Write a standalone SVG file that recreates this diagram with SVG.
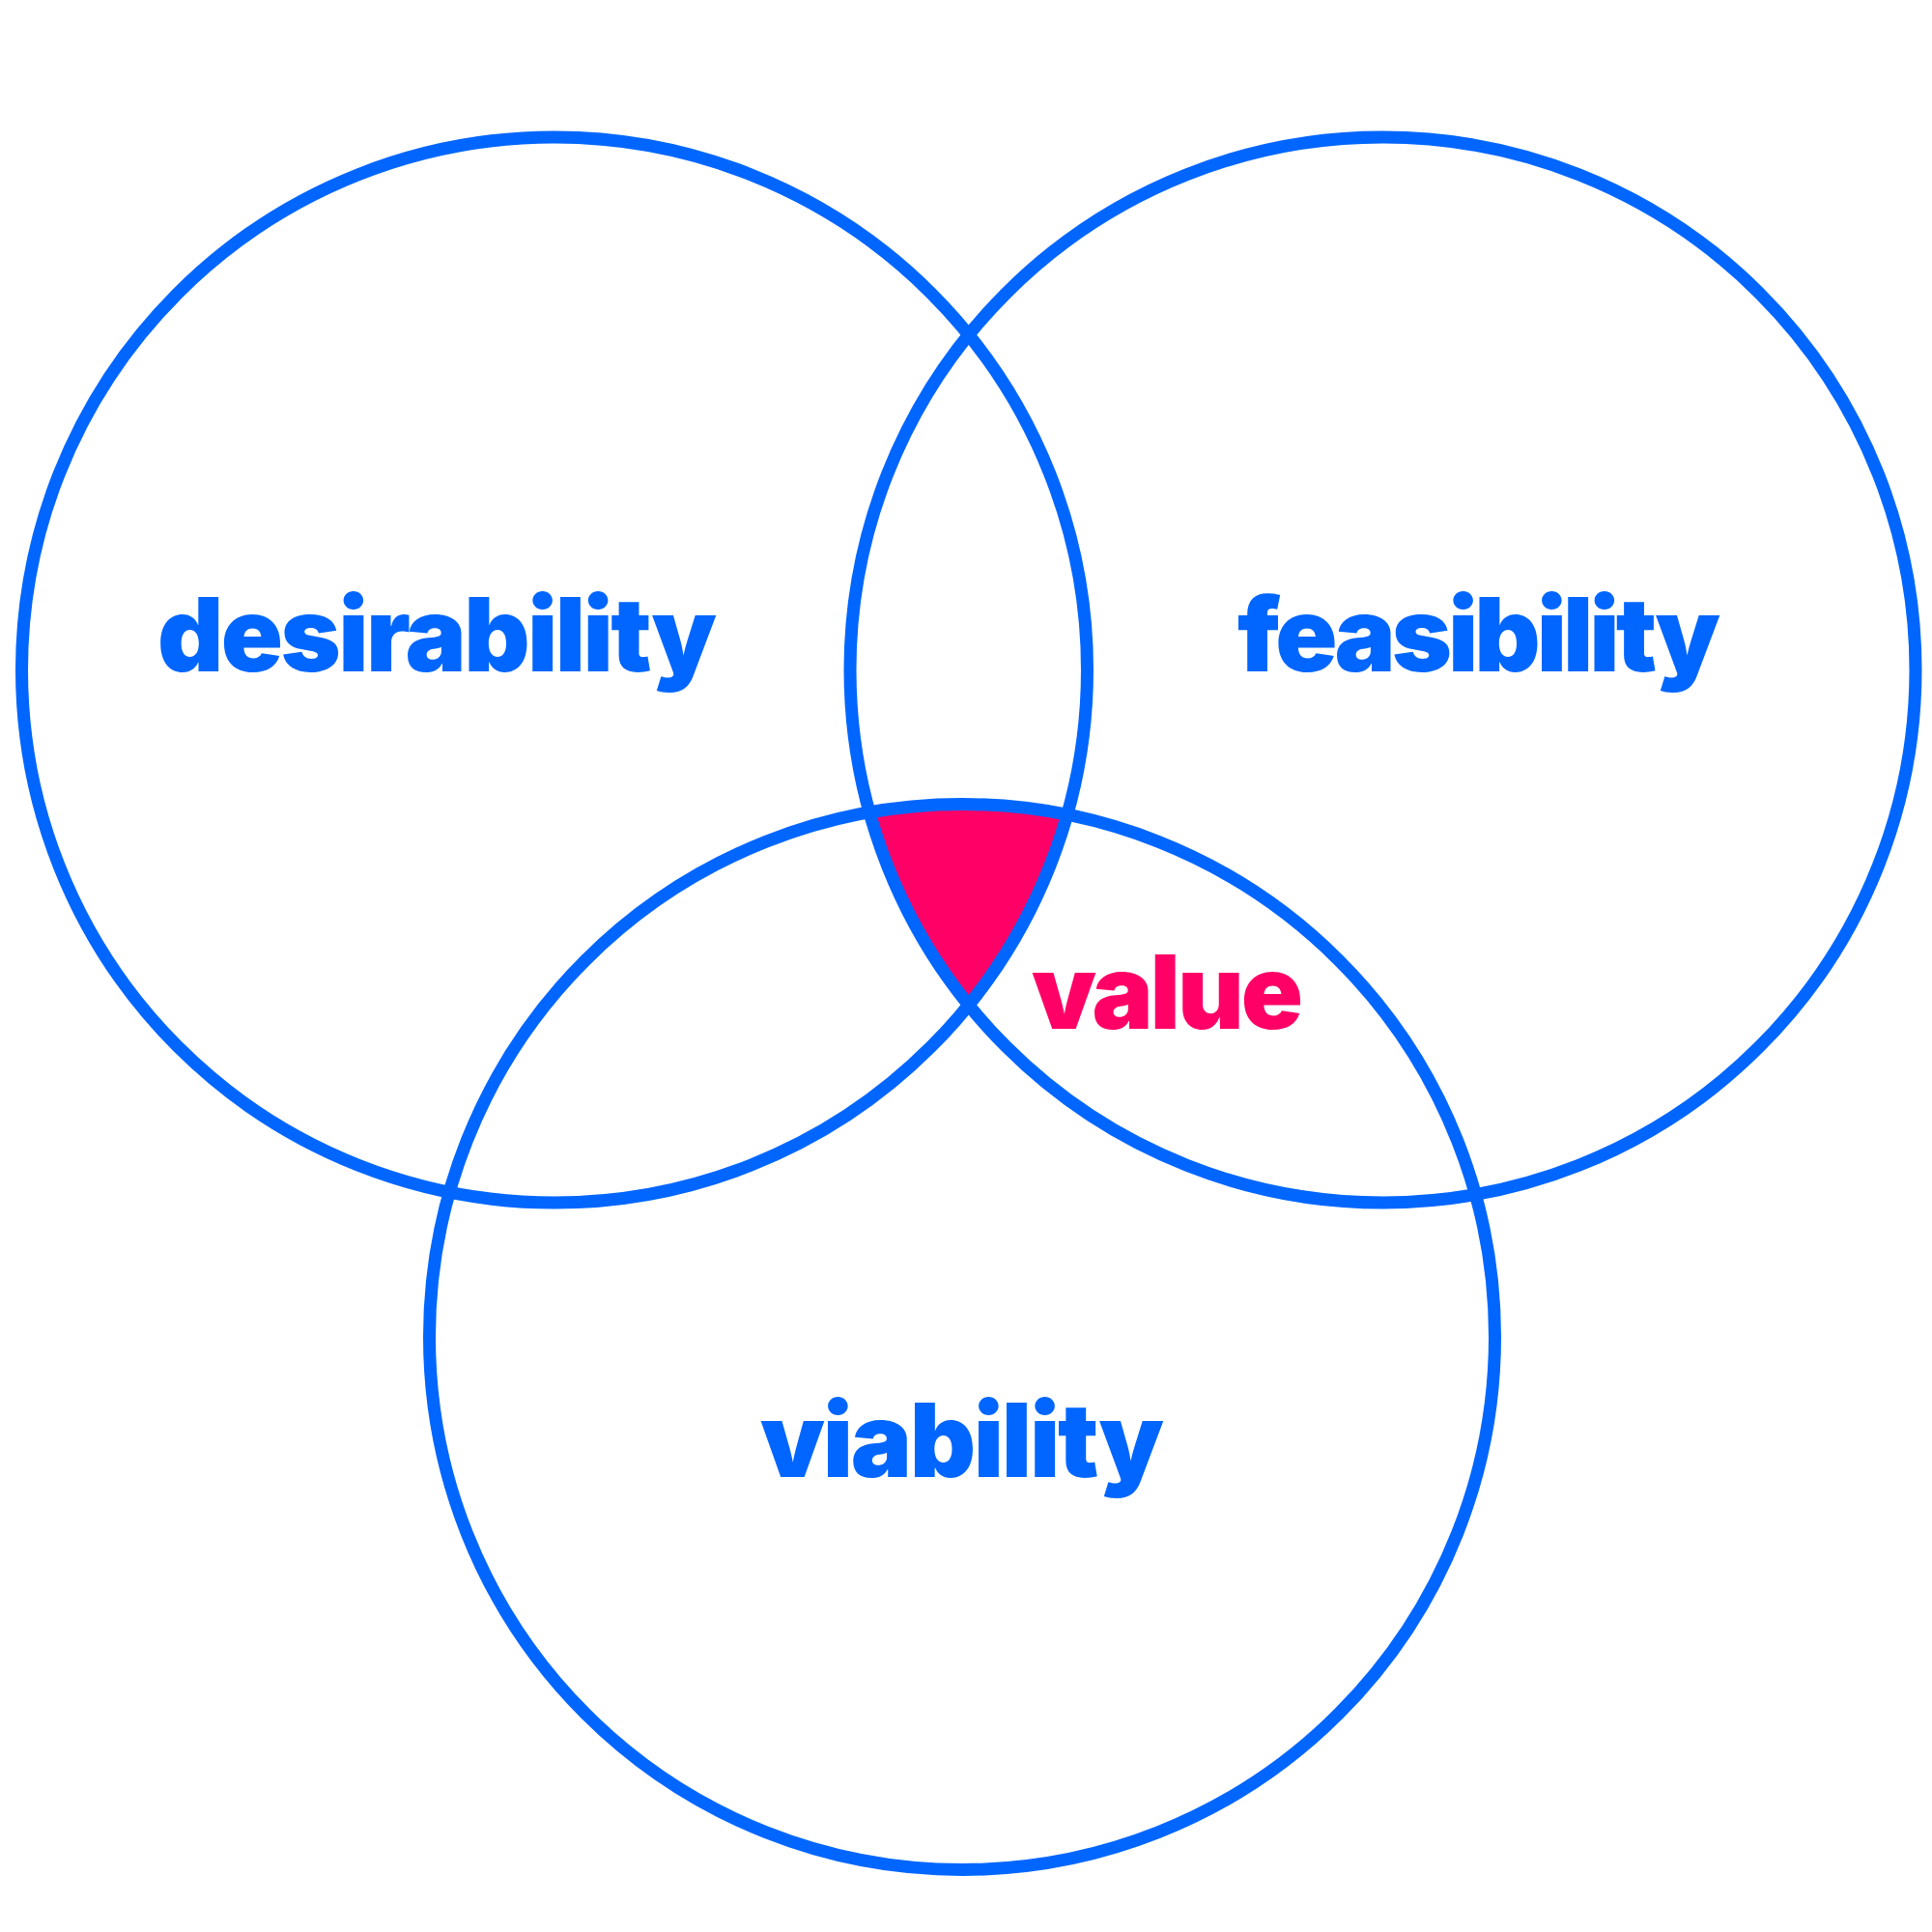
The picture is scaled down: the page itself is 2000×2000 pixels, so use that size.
<svg xmlns="http://www.w3.org/2000/svg" width="2000" height="2000" viewBox="0 0 2000 2000">
  <style>
    .ring { fill: none; stroke: #0066FF; stroke-width: 13; }
    .lbl { font-family: Inter, "Noto Sans", "Liberation Sans", sans-serif; font-weight: 900; font-size: 106px; fill: #0066FF; }
    .val { fill: #FF0066; }
  </style>
  <rect width="2000" height="2000" fill="#FFFFFF"/>
  <g id="value-region">
    <path d="M 900.1 840.9 A 551.5 551.5 0 0 1 1104.8 843 A 551.5 551.5 0 0 1 1002.75 1040.4 A 551.5 551.5 0 0 1 900.1 840.9 Z" fill="#FF0066"/>
  </g>
  <g id="desirability">
    <circle class="ring" cx="574" cy="693.5" r="551.5"/>
    <text class="lbl" x="163" y="695" textLength="579">desirability</text>
  </g>
  <g id="feasibility">
    <circle class="ring" cx="1431.5" cy="693.5" r="551.5"/>
    <text class="lbl" x="1281" y="695" textLength="500">feasibility</text>
  </g>
  <g id="viability">
    <circle class="ring" cx="996" cy="1384" r="551.5"/>
    <text class="lbl" x="787" y="1529" textLength="418">viability</text>
  </g>
  <g id="value">
    <text class="lbl val" x="1068" y="1065" textLength="281">value</text>
  </g>
  <g id="connectors"></g>
</svg>
